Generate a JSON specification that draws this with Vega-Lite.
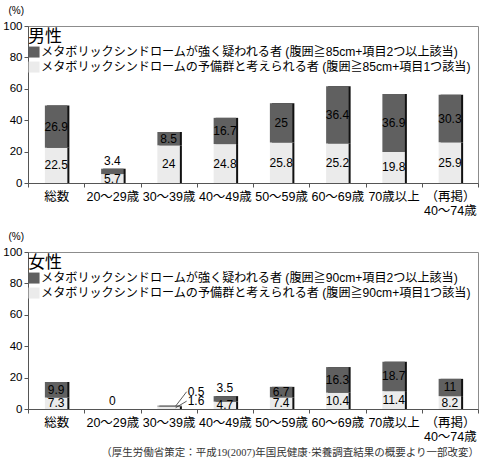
{
  "$schema": "https://vega.github.io/schema/vega-lite/v6.json",
  "autosize": {"type": "pad"},
  "padding": {"left": 2, "top": 4, "right": 6, "bottom": 2},
  "background": "white",
  "datasets": {
    "d": [
      {"sex": "男性", "age": "総数", "group": "メタボリックシンドロームの予備群と考えられる者 (腹囲≧85cm+項目1つ該当)", "value": 22.5},
      {"sex": "男性", "age": "総数", "group": "メタボリックシンドロームが強く疑われる者 (腹囲≧85cm+項目2つ以上該当)", "value": 26.9},
      {"sex": "男性", "age": "20～29歳", "group": "メタボリックシンドロームの予備群と考えられる者 (腹囲≧85cm+項目1つ該当)", "value": 5.7},
      {"sex": "男性", "age": "20～29歳", "group": "メタボリックシンドロームが強く疑われる者 (腹囲≧85cm+項目2つ以上該当)", "value": 3.4},
      {"sex": "男性", "age": "30～39歳", "group": "メタボリックシンドロームの予備群と考えられる者 (腹囲≧85cm+項目1つ該当)", "value": 24},
      {"sex": "男性", "age": "30～39歳", "group": "メタボリックシンドロームが強く疑われる者 (腹囲≧85cm+項目2つ以上該当)", "value": 8.5},
      {"sex": "男性", "age": "40～49歳", "group": "メタボリックシンドロームの予備群と考えられる者 (腹囲≧85cm+項目1つ該当)", "value": 24.8},
      {"sex": "男性", "age": "40～49歳", "group": "メタボリックシンドロームが強く疑われる者 (腹囲≧85cm+項目2つ以上該当)", "value": 16.7},
      {"sex": "男性", "age": "50～59歳", "group": "メタボリックシンドロームの予備群と考えられる者 (腹囲≧85cm+項目1つ該当)", "value": 25.8},
      {"sex": "男性", "age": "50～59歳", "group": "メタボリックシンドロームが強く疑われる者 (腹囲≧85cm+項目2つ以上該当)", "value": 25},
      {"sex": "男性", "age": "60～69歳", "group": "メタボリックシンドロームの予備群と考えられる者 (腹囲≧85cm+項目1つ該当)", "value": 25.2},
      {"sex": "男性", "age": "60～69歳", "group": "メタボリックシンドロームが強く疑われる者 (腹囲≧85cm+項目2つ以上該当)", "value": 36.4},
      {"sex": "男性", "age": "70歳以上", "group": "メタボリックシンドロームの予備群と考えられる者 (腹囲≧85cm+項目1つ該当)", "value": 19.8},
      {"sex": "男性", "age": "70歳以上", "group": "メタボリックシンドロームが強く疑われる者 (腹囲≧85cm+項目2つ以上該当)", "value": 36.9},
      {"sex": "男性", "age": "（再掲）40～74歳", "group": "メタボリックシンドロームの予備群と考えられる者 (腹囲≧85cm+項目1つ該当)", "value": 25.9},
      {"sex": "男性", "age": "（再掲）40～74歳", "group": "メタボリックシンドロームが強く疑われる者 (腹囲≧85cm+項目2つ以上該当)", "value": 30.3},
      {"sex": "女性", "age": "総数", "group": "メタボリックシンドロームの予備群と考えられる者 (腹囲≧90cm+項目1つ該当)", "value": 7.3},
      {"sex": "女性", "age": "総数", "group": "メタボリックシンドロームが強く疑われる者 (腹囲≧90cm+項目2つ以上該当)", "value": 9.9},
      {"sex": "女性", "age": "20～29歳", "group": "メタボリックシンドロームの予備群と考えられる者 (腹囲≧90cm+項目1つ該当)", "value": 0},
      {"sex": "女性", "age": "20～29歳", "group": "メタボリックシンドロームが強く疑われる者 (腹囲≧90cm+項目2つ以上該当)", "value": 0},
      {"sex": "女性", "age": "30～39歳", "group": "メタボリックシンドロームの予備群と考えられる者 (腹囲≧90cm+項目1つ該当)", "value": 1.6},
      {"sex": "女性", "age": "30～39歳", "group": "メタボリックシンドロームが強く疑われる者 (腹囲≧90cm+項目2つ以上該当)", "value": 0.5},
      {"sex": "女性", "age": "40～49歳", "group": "メタボリックシンドロームの予備群と考えられる者 (腹囲≧90cm+項目1つ該当)", "value": 4.7},
      {"sex": "女性", "age": "40～49歳", "group": "メタボリックシンドロームが強く疑われる者 (腹囲≧90cm+項目2つ以上該当)", "value": 3.5},
      {"sex": "女性", "age": "50～59歳", "group": "メタボリックシンドロームの予備群と考えられる者 (腹囲≧90cm+項目1つ該当)", "value": 7.4},
      {"sex": "女性", "age": "50～59歳", "group": "メタボリックシンドロームが強く疑われる者 (腹囲≧90cm+項目2つ以上該当)", "value": 6.7},
      {"sex": "女性", "age": "60～69歳", "group": "メタボリックシンドロームの予備群と考えられる者 (腹囲≧90cm+項目1つ該当)", "value": 10.4},
      {"sex": "女性", "age": "60～69歳", "group": "メタボリックシンドロームが強く疑われる者 (腹囲≧90cm+項目2つ以上該当)", "value": 16.3},
      {"sex": "女性", "age": "70歳以上", "group": "メタボリックシンドロームの予備群と考えられる者 (腹囲≧90cm+項目1つ該当)", "value": 11.4},
      {"sex": "女性", "age": "70歳以上", "group": "メタボリックシンドロームが強く疑われる者 (腹囲≧90cm+項目2つ以上該当)", "value": 18.7},
      {"sex": "女性", "age": "（再掲）40～74歳", "group": "メタボリックシンドロームの予備群と考えられる者 (腹囲≧90cm+項目1つ該当)", "value": 8.2},
      {"sex": "女性", "age": "（再掲）40～74歳", "group": "メタボリックシンドロームが強く疑われる者 (腹囲≧90cm+項目2つ以上該当)", "value": 11}
    ]
  },
  "title": {
    "text": "（厚生労働省策定：平成19(2007)年国民健康·栄養調査結果の概要より一部改変）",
    "orient": "bottom", "anchor": "end", "fontSize": 10.5, "fontWeight": "normal",
    "color": "#333333", "font": "Liberation Serif, Noto Sans CJK JP", "offset": 4
  },
  "spacing": 12,
  "resolve": {"scale": {"color": "independent"}, "legend": {"color": "independent"}},
  "vconcat": [
    {
      "width": 450, "height": 157,
      "data": {"name": "d"},
      "transform": [
        {"filter": "datum.sex == '男性'"},
        {"calculate": "indexof(datum.group, '予備群') >= 0 ? 0 : 1", "as": "ord"},
        {"stack": "value", "groupby": ["age"], "sort": [{"field": "ord", "order": "ascending"}], "as": ["y0", "y1"]},
        {"joinaggregate": [{"op": "sum", "field": "value", "as": "total"}], "groupby": ["age"]},
        {"calculate": "datum.total == 0 ? (datum.ord == 0 ? 'above' : 'none') : datum.total < 3 ? 'side' : (datum.ord == 1 && datum.value < 5) ? 'above' : 'mid'", "as": "pos"},
        {"calculate": "datum.pos == 'side' ? (datum.ord == 1 ? 11 : 5) : datum.pos == 'above' ? datum.y1 : (datum.y0 + datum.y1) / 2", "as": "ly"},
        {"calculate": "(datum.y0 + datum.y1) / 2", "as": "ymid"}
      ],
      "encoding": {
        "x": {
          "field": "age", "type": "nominal",
          "sort": ["総数", "20～29歳", "30～39歳", "40～49歳", "50～59歳", "60～69歳", "70歳以上", "（再掲）40～74歳"],
          "scale": {"paddingInner": 0, "paddingOuter": 0},
          "axis": {"title": null, "labelAngle": 0, "tickBand": "extent", "tickSize": 4, "labelPadding": 3,
                   "labelExpr": "datum.label == '（再掲）40～74歳' ? ['（再掲）', '40～74歳'] : datum.label"}
        }
      },
      "layer": [
        {
          "mark": {"type": "bar", "color": "#111111", "width": {"band": 0.4}, "xOffset": 2},
          "encoding": {
            "y": {"field": "y1", "type": "quantitative", "scale": {"domain": [0, 100]}, "title": "(%)",
                  "axis": {"values": [0, 20, 40, 60, 80, 100], "grid": false, "tickSize": 4, "labelOverlap": false, "labelFontSize": 11.5}},
            "y2": {"field": "y0"}
          }
        },
        {
          "mark": {"type": "bar", "width": {"band": 0.4}},
          "encoding": {
            "y": {"field": "y1", "type": "quantitative", "scale": {"domain": [0, 100]}, "title": "(%)",
                  "axis": {"values": [0, 20, 40, 60, 80, 100], "grid": false, "tickSize": 4, "labelOverlap": false, "labelFontSize": 11.5}},
            "y2": {"field": "y0"},
            "color": {
              "field": "group", "type": "nominal",
              "scale": {"domain": ["メタボリックシンドロームが強く疑われる者 (腹囲≧85cm+項目2つ以上該当)", "メタボリックシンドロームの予備群と考えられる者 (腹囲≧85cm+項目1つ該当)"],
                        "range": ["#606060", "#ebebeb"]},
              "legend": {"title": "男性", "orient": "none", "legendX": 0, "legendY": 3}
            }
          }
        },
        {
          "transform": [{"filter": "datum.pos == 'mid'"}],
          "mark": {"type": "text", "fontSize": 12, "baseline": "middle", "color": "black"},
          "encoding": {"y": {"field": "ly", "type": "quantitative", "scale": {"domain": [0, 100]}, "title": "(%)",
                  "axis": {"values": [0, 20, 40, 60, 80, 100], "grid": false, "tickSize": 4, "labelOverlap": false, "labelFontSize": 11.5}}, "text": {"field": "value", "type": "nominal"}}
        },
        {
          "transform": [{"filter": "datum.pos == 'above'"}],
          "mark": {"type": "text", "fontSize": 12, "baseline": "bottom", "dy": -1, "color": "black"},
          "encoding": {"y": {"field": "ly", "type": "quantitative", "scale": {"domain": [0, 100]}, "title": "(%)",
                  "axis": {"values": [0, 20, 40, 60, 80, 100], "grid": false, "tickSize": 4, "labelOverlap": false, "labelFontSize": 11.5}}, "text": {"field": "value", "type": "nominal"}}
        }
      ]
    },
    {
      "width": 450, "height": 157,
      "data": {"name": "d"},
      "transform": [
        {"filter": "datum.sex == '女性'"},
        {"calculate": "indexof(datum.group, '予備群') >= 0 ? 0 : 1", "as": "ord"},
        {"stack": "value", "groupby": ["age"], "sort": [{"field": "ord", "order": "ascending"}], "as": ["y0", "y1"]},
        {"joinaggregate": [{"op": "sum", "field": "value", "as": "total"}], "groupby": ["age"]},
        {"calculate": "datum.total == 0 ? (datum.ord == 0 ? 'above' : 'none') : datum.total < 3 ? 'side' : (datum.ord == 1 && datum.value < 5) ? 'above' : 'mid'", "as": "pos"},
        {"calculate": "datum.pos == 'side' ? (datum.ord == 1 ? 11 : 5) : datum.pos == 'above' ? datum.y1 : (datum.y0 + datum.y1) / 2", "as": "ly"},
        {"calculate": "(datum.y0 + datum.y1) / 2", "as": "ymid"}
      ],
      "encoding": {
        "x": {
          "field": "age", "type": "nominal",
          "sort": ["総数", "20～29歳", "30～39歳", "40～49歳", "50～59歳", "60～69歳", "70歳以上", "（再掲）40～74歳"],
          "scale": {"paddingInner": 0, "paddingOuter": 0},
          "axis": {"title": null, "labelAngle": 0, "tickBand": "extent", "tickSize": 4, "labelPadding": 3,
                   "labelExpr": "datum.label == '（再掲）40～74歳' ? ['（再掲）', '40～74歳'] : datum.label"}
        }
      },
      "layer": [
        {
          "mark": {"type": "bar", "color": "#111111", "width": {"band": 0.4}, "xOffset": 2},
          "encoding": {
            "y": {"field": "y1", "type": "quantitative", "scale": {"domain": [0, 100]}, "title": "(%)",
                  "axis": {"values": [0, 20, 40, 60, 80, 100], "grid": false, "tickSize": 4, "labelOverlap": false, "labelFontSize": 11.5}},
            "y2": {"field": "y0"}
          }
        },
        {
          "mark": {"type": "bar", "width": {"band": 0.4}},
          "encoding": {
            "y": {"field": "y1", "type": "quantitative", "scale": {"domain": [0, 100]}, "title": "(%)",
                  "axis": {"values": [0, 20, 40, 60, 80, 100], "grid": false, "tickSize": 4, "labelOverlap": false, "labelFontSize": 11.5}},
            "y2": {"field": "y0"},
            "color": {
              "field": "group", "type": "nominal",
              "scale": {"domain": ["メタボリックシンドロームが強く疑われる者 (腹囲≧90cm+項目2つ以上該当)", "メタボリックシンドロームの予備群と考えられる者 (腹囲≧90cm+項目1つ該当)"],
                        "range": ["#606060", "#ebebeb"]},
              "legend": {"title": "女性", "orient": "none", "legendX": 0, "legendY": 3}
            }
          }
        },
        {
          "transform": [{"filter": "datum.pos == 'mid'"}],
          "mark": {"type": "text", "fontSize": 12, "baseline": "middle", "color": "black"},
          "encoding": {"y": {"field": "ly", "type": "quantitative", "scale": {"domain": [0, 100]}, "title": "(%)",
                  "axis": {"values": [0, 20, 40, 60, 80, 100], "grid": false, "tickSize": 4, "labelOverlap": false, "labelFontSize": 11.5}}, "text": {"field": "value", "type": "nominal"}}
        },
        {
          "transform": [{"filter": "datum.pos == 'above'"}],
          "mark": {"type": "text", "fontSize": 12, "baseline": "bottom", "dy": -1, "color": "black"},
          "encoding": {"y": {"field": "ly", "type": "quantitative", "scale": {"domain": [0, 100]}, "title": "(%)",
                  "axis": {"values": [0, 20, 40, 60, 80, 100], "grid": false, "tickSize": 4, "labelOverlap": false, "labelFontSize": 11.5}}, "text": {"field": "value", "type": "nominal"}}
        },
        {
          "transform": [{"filter": "datum.pos == 'side'"}],
          "mark": {"type": "rule", "color": "#333333", "strokeWidth": 0.8, "xOffset": 7, "x2Offset": 18},
          "encoding": {
            "x2": {"field": "age"},
            "y": {"field": "ymid", "type": "quantitative", "scale": {"domain": [0, 100]}, "title": "(%)",
                  "axis": {"values": [0, 20, 40, 60, 80, 100], "grid": false, "tickSize": 4, "labelOverlap": false, "labelFontSize": 11.5}},
            "y2": {"field": "ly"}
          }
        },
        {
          "transform": [{"filter": "datum.pos == 'side'"}],
          "mark": {"type": "text", "fontSize": 12, "baseline": "middle", "align": "left", "dx": 19, "color": "black"},
          "encoding": {"y": {"field": "ly", "type": "quantitative", "scale": {"domain": [0, 100]}, "title": "(%)",
                  "axis": {"values": [0, 20, 40, 60, 80, 100], "grid": false, "tickSize": 4, "labelOverlap": false, "labelFontSize": 11.5}}, "text": {"field": "value", "type": "nominal"}}
        }
      ]
    }
  ],
  "config": {
    "font": "Liberation Sans, Noto Sans CJK JP",
    "view": {"stroke": "#8c8c8c", "strokeWidth": 1},
    "axis": {
      "labelFontSize": 12.5, "labelColor": "black", "domainColor": "#555555", "tickColor": "#555555",
      "titleFontSize": 10, "titleFontWeight": "normal", "titleColor": "black"
    },
    "axisY": {"labelPadding": 2, "titleAngle": 0, "titleX": -20, "titleY": -11, "titleAlign": "left", "titleBaseline": "bottom", "titleFont": "Liberation Sans"},
    "legend": {
      "padding": 0, "titleFontSize": 17, "titleFontWeight": "normal", "titleColor": "black", "titlePadding": 0,
      "labelFontSize": 12.1, "labelColor": "black", "labelLimit": 0, "labelOffset": 1,
      "symbolType": "square", "symbolSize": 121, "symbolStrokeWidth": 0, "rowPadding": 2
    }
  }
}
